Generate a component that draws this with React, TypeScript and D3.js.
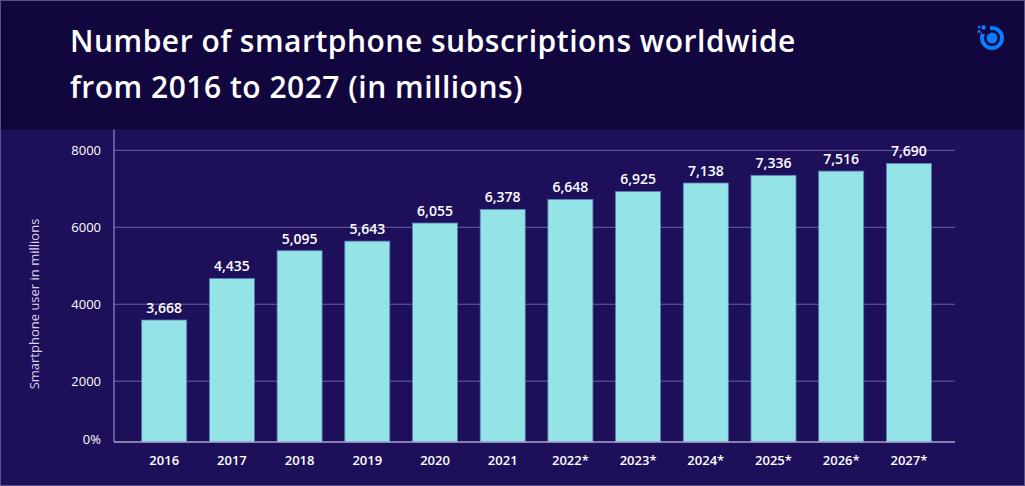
import React from "react";
import * as d3 from "d3";

const years = ["2016", "2017", "2018", "2019", "2020", "2021", "2022*", "2023*", "2024*", "2025*", "2026*", "2027*"];
// printed value labels
const valueLabels = ["3,668", "4,435", "5,095", "5,643", "6,055", "6,378", "6,648", "6,925", "7,138", "7,336", "7,516", "7,690"];
// bar heights as drawn in the picture
const barValues = [3590, 4670, 5390, 5640, 6110, 6465, 6725, 6930, 7150, 7350, 7460, 7660];
const yTicks = [2000, 4000, 6000, 8000];
const title = ["Number of smartphone subscriptions worldwide", "from 2016 to 2027 (in millions)"];
const yTitle = "Smartphone user in millions";

const W = 1025;
const H = 486;
const FONT = "'Open Sans', 'Noto Sans', sans-serif";

export default function App() {
  const axisLeft = 114;
  const axisRight = 955;
  const baseY = 442;
  const x = d3.scaleBand<string>().domain(years).range([130.35, 942.75]).paddingInner(0.335).paddingOuter(0.1675);
  const y = d3.scaleLinear().domain([420, 8000]).range([baseY, 150.3]);

  return (
    <svg width={W} height={H} style={{ position: "absolute", left: 0, top: 0, display: "block" }} fontFamily={FONT}>
      <rect x={0} y={0} width={W} height={H} fill="#1d0f5a" />
      <rect x={0} y={0} width={W} height={129.5} fill="#12063f" />
      <rect x={0.5} y={0.5} width={W - 1} height={H - 1} fill="none" stroke="#5a5288" strokeWidth={1} />

      {title.map((t, i) => (
        <text key={i} x={70} y={52 + i * 46} fill="#ffffff" fontSize={30} fontWeight={600} letterSpacing={0.5}>
          {t}
        </text>
      ))}

      {/* logo */}
      <g fill="#0b7cff">
        <circle cx={992} cy={38} r={10} fill="none" stroke="#0b7cff" strokeWidth={4} />
        <circle cx={992} cy={38} r={5.5} />
        <rect x={982} y={26} width={8} height={8} fill="#12063f" />
        <circle cx={983.5} cy={27.5} r={2.3} />
        <circle cx={979} cy={31.5} r={1.5} />
        <circle cx={979} cy={27} r={1.2} />
      </g>

      {/* gridlines */}
      {yTicks.map((t) => (
        <line key={t} x1={axisLeft} x2={axisRight} y1={y(t)} y2={y(t)} stroke="#6b62a0" strokeWidth={1} />
      ))}
      {yTicks.map((t) => (
        <text key={"l" + t} x={101} y={y(t)} dy="0.35em" textAnchor="end" fill="#ffffff" fontSize={13}>
          {t}
        </text>
      ))}
      <text x={101} y={baseY - 3} dy="0.35em" textAnchor="end" fill="#ffffff" fontSize={13}>
        0%
      </text>

      <text
        transform={`translate(39,${304}) rotate(-90)`}
        textAnchor="middle"
        fill="#d8d6ec"
        fontSize={13}
      >
        {yTitle}
      </text>

      {/* bars */}
      {years.map((yr, i) => (
        <rect
          key={yr}
          x={x(yr)}
          y={y(barValues[i])}
          width={x.bandwidth()}
          height={baseY - y(barValues[i])}
          fill="#94e3e7"
          stroke="#5d7db4"
          strokeWidth={0.8}
        />
      ))}
      {years.map((yr, i) => (
        <text
          key={"v" + yr}
          x={(x(yr) as number) + x.bandwidth() / 2}
          y={y(barValues[i]) - 7}
          textAnchor="middle"
          fill="#ffffff"
          fontSize={14}
          fontWeight={600}
        >
          {valueLabels[i]}
        </text>
      ))}

      {/* axes */}
      <line x1={axisLeft} x2={axisLeft} y1={129.5} y2={baseY} stroke="#a9a4cc" strokeWidth={1} />
      <line x1={axisLeft} x2={axisRight} y1={baseY} y2={baseY} stroke="#a9a4cc" strokeWidth={1.5} />

      {years.map((yr) => (
        <text
          key={"x" + yr}
          x={(x(yr) as number) + x.bandwidth() / 2}
          y={465}
          textAnchor="middle"
          fill="#ffffff"
          fontSize={13}
          fontWeight={600}
        >
          {yr}
        </text>
      ))}
    </svg>
  );
}
